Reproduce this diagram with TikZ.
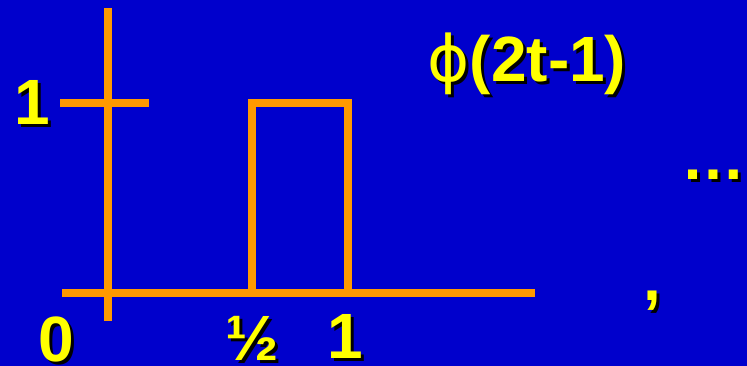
\documentclass[tikz,border=0pt]{standalone}
\usepackage{fontspec}
\setmainfont{Liberation Sans}
\newfontfamily\phifont{DejaVu Sans}
\usetikzlibrary{positioning}
\definecolor{SlideBlue}{RGB}{0,0,204}
\definecolor{SlideOrange}{RGB}{255,153,0}
\definecolor{SlideYellow}{RGB}{255,255,0}

% yellow label with a black drop shadow
\newcommand{\shlabel}[3]{%
  \node[lbl, text=black] (#1-sh) at ([shift={(3,3)}]#2) {#3};
  \node[lbl] (#1) at (#2) {#3};
}

\begin{document}
\begin{tikzpicture}[
  x=1pt, y=-1pt,
  lbl/.style={inner sep=0pt, anchor=base, text=SlideYellow, font=\fontsize{64}{70}\selectfont\bfseries},
  graph/.style={draw=SlideOrange, line width=7.5pt, line cap=butt, line join=miter}
]
\fill[SlideBlue] (0,0) rectangle (747,366);
\useasboundingbox (0,0) rectangle (747,366);

% axes and tick
\draw[graph] (108,8) -- (108,321);
\draw[graph] (62,293) -- (535,293);
\draw[graph] (60,103) -- (149,103);

% the box phi(2t-1)
\draw[graph] (252,293) -- (252,103) -- (348,103) -- (348,293);

% labels
\shlabel{one}{32,125}{1}
\shlabel{zero}{56,361}{0}
\shlabel{half}{252,360}{½}
\shlabel{oneb}{345,358}{1}
\shlabel{title}{527,82}{{\phifont\mdseries ϕ}(2t-1)}
\shlabel{dots}{713,180}{…}
\shlabel{comma}{652,300}{,}
\end{tikzpicture}
\end{document}
